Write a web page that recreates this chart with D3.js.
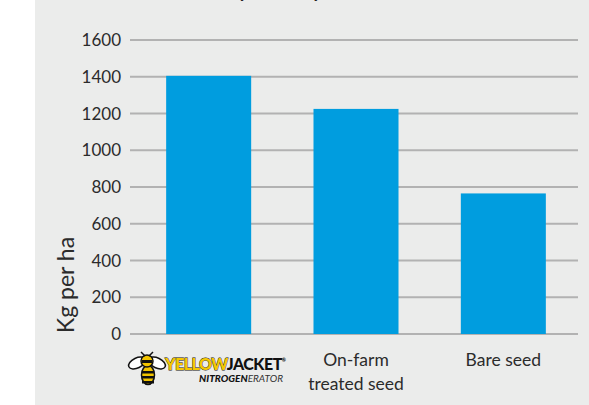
<!DOCTYPE html>
<html>
<head>
<meta charset="utf-8">
<script src="https://cdn.jsdelivr.net/npm/d3@7"></script>
<style>
  body { margin: 0; background: #fff; }
  svg text { font-family: Lato, "Open Sans", sans-serif; fill: #231f20; }
  .light { font-weight: 400; fill: #2b2b2b; }
</style>
</head>
<body>
<div id="chart"></div>
<script>
// chart data
var categories = ['yellowjacket', 'On-farm treated seed', 'Bare seed'];
var yields     = [1405, 1225, 765];
var yTicks     = [0, 200, 400, 600, 800, 1000, 1200, 1400, 1600];
var titleText  = 'Dry matter yield';
var yLabel     = 'Kg per ha';

var width = 589, height = 405;

var svg = d3.select('#chart').append('svg')
	.attr('width', width).attr('height', height);

// grey panel
svg.append('rect')
	.attr('x', 35).attr('y', 0)
	.attr('width', width - 35).attr('height', height)
	.attr('fill', '#ebeceb');

// title, mostly cut off at the top like the source
svg.append('text')
	.attr('x', 285).attr('y', -2)
	.attr('text-anchor', 'middle')
	.style('font-size', '19px').style('font-weight', 'bold')
	.text(titleText);

var x = d3.scaleBand()
	.domain(categories)
	.range([135, 577])
	.paddingInner(0.423)
	.paddingOuter(0.2115);

var y = d3.scaleLinear()
	.domain([0, 1600])
	.range([334, 40]);

// gridlines
svg.append('g').selectAll('line')
	.data(yTicks)
	.enter().append('line')
	.attr('x1', 130).attr('x2', 578)
	.attr('y1', function(d){ return y(d); })
	.attr('y2', function(d){ return y(d); })
	.attr('stroke', '#b2b2b2')
	.attr('stroke-width', 2);

// y tick labels
svg.append('g').selectAll('text')
	.data(yTicks)
	.enter().append('text')
	.attr('class', 'light')
	.attr('x', 121)
	.attr('y', function(d){ return y(d); })
	.attr('dy', '0.36em')
	.attr('text-anchor', 'end')
	.style('font-size', '17px')
	.text(function(d){ return d; });

// y axis title
svg.append('text')
	.attr('class', 'light')
	.attr('transform', 'translate(74,285) rotate(-90)')
	.attr('text-anchor', 'middle')
	.style('font-size', '23px')
	.text(yLabel);

// bars
svg.append('g').selectAll('rect')
	.data(yields)
	.enter().append('rect')
	.attr('x', function(d, i){ return x(categories[i]); })
	.attr('width', x.bandwidth())
	.attr('y', function(d){ return y(d); })
	.attr('height', function(d){ return y(0) - y(d); })
	.attr('fill', '#009ddf');

// category labels (text ones)
var labelLines = [[], ['On-farm', 'treated seed'], ['Bare seed']];
labelLines.forEach(function(lines, i){
	var cx = x(categories[i]) + x.bandwidth() / 2;
	lines.forEach(function(line, j){
		svg.append('text')
			.attr('class', 'light')
			.attr('x', cx).attr('y', 366 + j * 24)
			.attr('text-anchor', 'middle')
			.style('font-size', '17.5px')
			.text(line);
	});
});

// Yellow Jacket logo under the first bar
var logo = svg.append('g').attr('transform', 'translate(147,369)');
// wings
logo.append('ellipse').attr('cx', -10).attr('cy', -6).attr('rx', 9).attr('ry', 5)
	.attr('transform', 'rotate(-25,-10,-6)')
	.attr('fill', '#fff').attr('stroke', '#111').attr('stroke-width', 1.5);
logo.append('ellipse').attr('cx', 10).attr('cy', -6).attr('rx', 9).attr('ry', 5)
	.attr('transform', 'rotate(25,10,-6)')
	.attr('fill', '#fff').attr('stroke', '#111').attr('stroke-width', 1.5);
// body
logo.append('ellipse').attr('cx', 1).attr('cy', 6).attr('rx', 6.5).attr('ry', 9.5)
	.attr('fill', '#f2c400').attr('stroke', '#111').attr('stroke-width', 1.5);
[2, 7, 12].forEach(function(sy){
	logo.append('rect').attr('x', -5).attr('y', sy).attr('width', 12).attr('height', 2.5).attr('fill', '#111');
});
// head and antennae
logo.append('circle').attr('cx', 0).attr('cy', -8).attr('r', 6)
	.attr('fill', '#f2c400').attr('stroke', '#111').attr('stroke-width', 1.5);
logo.append('rect').attr('x', -5).attr('y', -9).attr('width', 10).attr('height', 3).attr('fill', '#111');
logo.append('path').attr('d', 'M-2,-13 L-6,-17 M2,-13 L6,-17')
	.attr('stroke', '#111').attr('stroke-width', 1.5).attr('fill', 'none');

svg.append('text')
	.attr('x', 165).attr('y', 370)
	.style('font-size', '16px').style('font-weight', '900')
	.style('letter-spacing', '-0.5px')
	.call(function(t){
		t.append('tspan').text('YELLOW')
			.style('fill', '#f5c800').style('stroke', '#111').style('stroke-width', 0.8)
			.style('paint-order', 'stroke');
		t.append('tspan').text('JACKET').style('fill', '#111');
		t.append('tspan').text('®').style('font-size', '5px').attr('dy', -8);
	});
svg.append('text')
	.attr('x', 283).attr('y', 382)
	.attr('text-anchor', 'end')
	.style('font-size', '10px').style('font-style', 'italic')
	.call(function(t){
		t.append('tspan').text('NITROGEN').style('font-weight', '900').style('fill', '#111');
		t.append('tspan').text('ERATOR').style('fill', '#333');
	});
</script>
</body>
</html>
